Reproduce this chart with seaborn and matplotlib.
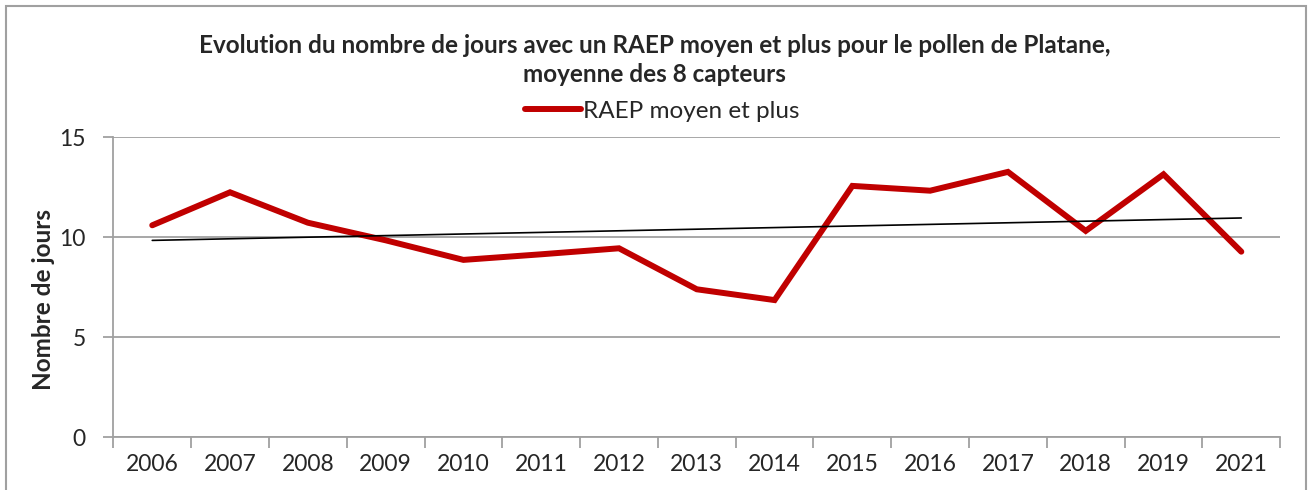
import numpy as np
import pandas as pd
import seaborn as sns
import matplotlib.pyplot as plt
from matplotlib.patches import Rectangle
from matplotlib.ticker import FixedLocator

# données
annees = ['2006', '2007', '2008', '2009', '2010', '2011', '2012', '2013',
          '2014', '2015', '2016', '2017', '2018', '2019', '2021']
jours = [10.6, 12.25, 10.73, 9.85, 8.87, 9.15, 9.45, 7.4,
         6.86, 12.57, 12.33, 13.27, 10.32, 13.15, 9.28]
serie = 'RAEP moyen et plus'
titre = ('Evolution du nombre de jours avec un RAEP moyen et plus pour le pollen de Platane,\n'
         'moyenne des 8 capteurs')

df = pd.DataFrame({'annee': annees, 'jours': jours, 'idx': np.arange(len(annees))})

sns.set_style('white')
plt.rcParams['font.family'] = ['Lato', 'DejaVu Sans']

fig = plt.figure(figsize=(13.09, 4.9), dpi=100)
ax = fig.add_axes([0.0866, 0.1076, 0.978 - 0.0866, 0.7198 - 0.1076])

grey = '#a0a0a0'
# série principale
sns.lineplot(data=df, x='idx', y='jours', ax=ax, color='#c00000', lw=4.3,
             label=serie, solid_capstyle='round', solid_joinstyle='miter')
# courbe de tendance linéaire
sns.regplot(data=df, x='idx', y='jours', ax=ax, scatter=False, ci=None,
            color='black', line_kws=dict(lw=1.2), truncate=True)

ax.set_xlim(-0.5, len(annees) - 0.5)
ax.set_ylim(0, 15)
ax.set_yticks([0, 5, 10, 15])
ax.grid(axis='y', color=grey, lw=1.3)
ax.set_axisbelow(True)

ax.set_xticks(df['idx'])
ax.set_xticklabels(annees)
ax.xaxis.set_minor_locator(FixedLocator(np.arange(-0.5, len(annees), 1.0)))
ax.tick_params(axis='x', which='major', length=0, pad=12, labelsize=16.5)
ax.tick_params(axis='x', which='minor', length=8, width=1.3, color=grey, direction='out', bottom=True)
ax.tick_params(axis='y', length=7, width=1.3, color=grey, direction='out', left=True, pad=13, labelsize=16.5)

for s in ['top', 'right']:
    ax.spines[s].set_visible(False)
for s in ['left', 'bottom']:
    ax.spines[s].set_color(grey)
    ax.spines[s].set_linewidth(1.3)

ax.set_xlabel('')
ax.set_ylabel('Nombre de jours', fontsize=17.5, fontweight='bold')
ax.yaxis.set_label_coords(55 / 1309, 190 / 490, transform=fig.transFigure)

fig.suptitle(titre, x=0.5, y=0.93, fontsize=17.5, fontweight='bold', linespacing=1.32)

ax.legend(loc='center', bbox_to_anchor=(0.506, 0.773), bbox_transform=fig.transFigure,
          frameon=False, fontsize=17.5, handlelength=2.3, handletextpad=0.1)

# cadre du graphique
fig.patches.append(Rectangle((6 / 1309, -0.02), 1300 / 1309, 1.02 - 6 / 490,
                             transform=fig.transFigure, fill=False,
                             edgecolor=grey, lw=1.5, zorder=10))

fig.savefig('out.png', dpi=100)
